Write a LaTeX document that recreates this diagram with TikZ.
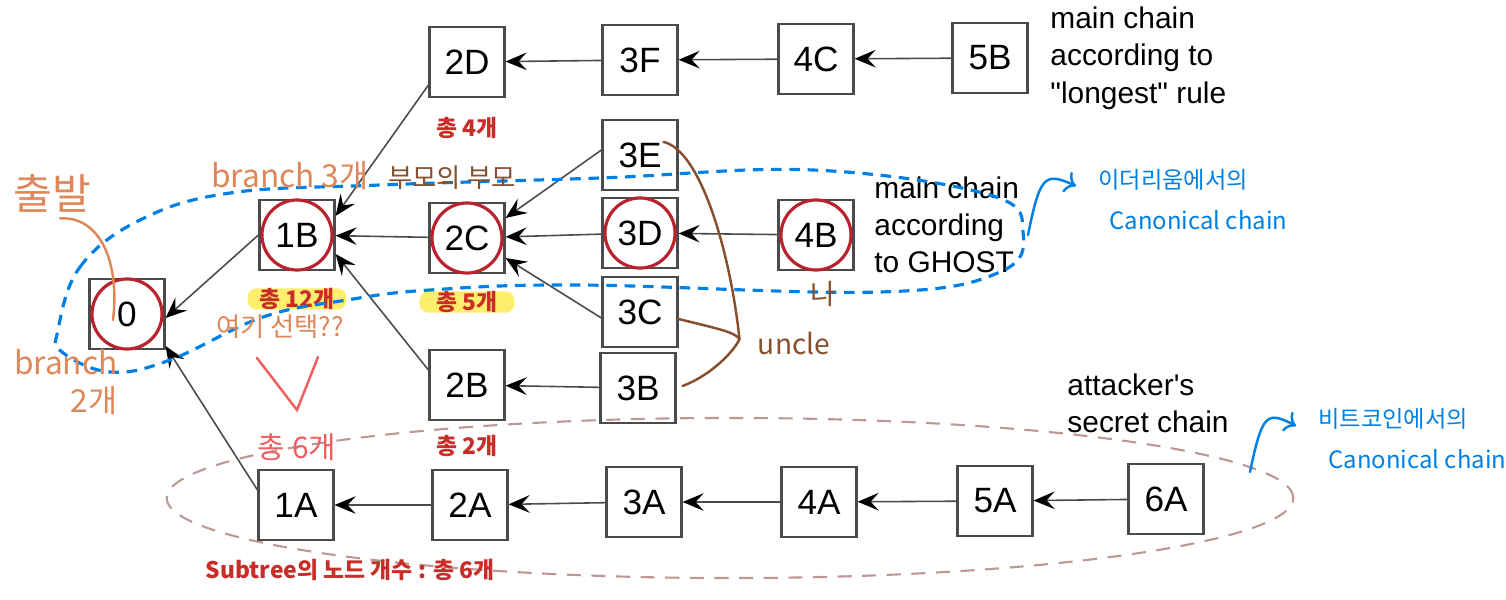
\documentclass[tikz,border=0pt]{standalone}
\usepackage{fontspec}
\setmainfont{Liberation Sans}
\newfontfamily\kr{Noto Sans CJK KR}
\usetikzlibrary{arrows.meta}
\definecolor{blkgray}{RGB}{75,75,75}
\definecolor{ringred}{RGB}{185,35,45}
\definecolor{tallyred}{RGB}{200,45,40}
\definecolor{hlyellow}{RGB}{255,238,110}
\definecolor{orangepen}{RGB}{222,135,88}
\definecolor{brownpen}{RGB}{135,80,45}
\definecolor{pinkpen}{RGB}{238,95,95}
\definecolor{bluepen}{RGB}{0,128,228}
\definecolor{secretrose}{RGB}{190,150,150}
\begin{document}
\begin{tikzpicture}[
    x=0.01cm, y=-0.01cm,
    font=\fontsize{10}{12}\selectfont,
    blk/.style={draw=blkgray, line width=0.6pt, minimum width=0.75cm, minimum height=0.7cm, inner sep=0pt},
    ring/.style={draw=ringred, line width=0.9pt},
    link/.style={-{Stealth[length=6pt, width=5pt, inset=2.3pt, color=black]}, draw=blkgray, line width=0.45pt},
    note/.style={align=left, anchor=west, font=\fontsize{8.5}{10.6}\selectfont},
    tally/.style={text=tallyred, font=\kr\bfseries\fontsize{6.5}{8}\selectfont},
    hilite/.style={fill=hlyellow, rounded corners=0.9mm, minimum width=0.95cm, minimum height=0.2cm, inner ysep=0pt},
    hand/.style={font=\kr\fontsize{8.5}{10}\selectfont},
    pen/.style={line width=0.7pt, line cap=round},
    loopline/.style={draw=bluepen, line width=0.9pt, dash pattern=on 3pt off 2.2pt},
    secret/.style={draw=secretrose, line width=0.6pt, dash pattern=on 4pt off 3pt}
]
\useasboundingbox (0,0) rectangle (1506,600);
\draw[secret] (730,498) ellipse [x radius=5.63cm, y radius=0.8cm];
\node[blk] (b2d) at (467,62) {2D};
\node[blk] (b3f) at (640,60) {3F};
\node[blk] (b4c) at (816,59) {4C};
\node[blk] (b5b) at (990,58) {5B};
\node[blk] (b3e) at (640,155) {3E};
\node[blk] (b3d) at (640,233) {3D};
\node[blk] (b3c) at (640,312) {3C};
\node[blk] (b3b) at (638,388) {3B};
\node[blk] (b2c) at (467,238) {2C};
\node[blk] (b2b) at (467,385) {2B};
\node[blk] (b1b) at (297,235) {1B};
\node[blk] (b0) at (127,314) {0};
\node[blk] (b4b) at (816,235) {4B};
\node[blk] (b1a) at (296,505) {1A};
\node[blk] (b2a) at (470,505) {2A};
\node[blk] (b3a) at (644,502) {3A};
\node[blk] (b4a) at (819,502) {4A};
\node[blk] (b5a) at (995,501) {5A};
\node[blk] (b6a) at (1166,499) {6A};
\draw[ring] (b0.center) circle [radius=0.35cm];
\draw[ring] (b1b.center) circle [radius=0.35cm];
\draw[ring] (b2c.center) circle [radius=0.35cm];
\draw[ring] (b3d.center) circle [radius=0.35cm];
\draw[ring] (b4b.center) circle [radius=0.35cm];
\node[note] (longest) at (1038,58) {main chain\\according to\\\textquotedbl longest\textquotedbl{} rule};
\node[note] (ghost) at (862,225) {main chain\\according\\to GHOST};
\node[note] (attacker) at (1055,403) {attacker\textquotesingle s\\secret chain};
\draw[link] (b3f) -- (b2d);
\draw[link] (b4c) -- (b3f);
\draw[link] (b5b) -- (b4c);
\draw[link] ([yshift=-2.3mm]b2d.west) -- ([yshift=-1.7mm]b1b.north east);
\draw[link] (b2c) -- (b1b);
\draw[link] ([yshift=1.5mm]b2b.west) -- ([yshift=-1.9mm]b1b.east);
\draw[link] (b1b.west) -- ([yshift=-0.4mm]b0.east);
\draw[link] ([yshift=1.5mm]b1a.west) -- ([yshift=0.4mm]b0.south east);
\draw[link] ([yshift=0.5mm]b3e.west) -- ([yshift=2mm]b2c.east);
\draw[link] (b3d) -- (b2c);
\draw[link] ([yshift=-0.6mm]b3c.west) -- ([yshift=-2mm]b2c.east);
\draw[link] (b4b) -- (b3d);
\draw[link] (b3b) -- (b2b);
\draw[link] (b2a) -- (b1a);
\draw[link] (b3a) -- (b2a);
\draw[link] (b4a) -- (b3a);
\draw[link] (b5a) -- (b4a);
\draw[link] (b6a) -- (b5a);
\node[tally] (t4) at (467,128) {총 4개};
\node[tally, hilite] (t12) at (297,299) {총 12개};
\node[tally, hilite] (t5) at (467,302) {총 5개};
\node[tally] (t2) at (467,446) {총 2개};
\node[tally] (subtree) at (350,570) {Subtree의 노드 개수 : 총 6개};
\draw[loopline] plot[smooth cycle, tension=0.65] coordinates {(58,330) (80,267) (140,220) (230,193) (380,185) (600,178) (813,170) (990,195) (1023,232) (1000,272) (880,292) (580,285) (430,290) (347,300) (263,317) (170,360) (110,372) (62,352)};
\node[hand, text=orangepen, font=\kr\fontsize{12}{13}\selectfont] (depart) at (52,193) {출발};
\draw[pen, draw=orangepen] ([xshift=0.8mm,yshift=0.6mm]depart.south) .. controls (100,216) and (120,262) .. ([xshift=-1.4mm,yshift=-0.6mm]b0.center);
\node[hand, text=orangepen, font=\kr\fontsize{9}{10}\selectfont] (br3) at (290,176) {branch 3개};
\node[hand, text=orangepen, font=\kr\fontsize{9}{11}\selectfont, align=right, anchor=east] (br2) at (130,382) {branch\\2개};
\node[hand, text=brownpen, font=\kr\fontsize{7.5}{9}\selectfont] (gp) at (452,178) {부모의 부모};
\node[hand, text=orangepen, font=\kr\fontsize{7.5}{9}\selectfont] (pick) at (280,327) {여기 선택??};
\draw[pen, draw=pinkpen] (257,358) -- (297,410) -- (318,357);
\node[hand, text=pinkpen] (t6) at (297,447) {총 6개};
\node[hand, text=brownpen, font=\kr\fontsize{8}{9}\selectfont] (uncle) at (794,343) {uncle};
\draw[pen, draw=brownpen] ([xshift=-1.5mm,yshift=1.3mm]b3e.east) .. controls (700,150) and (730,250) .. ([xshift=-0.6mm,yshift=0.4mm]uncle.west);
\draw[pen, draw=brownpen] ([yshift=-0.7mm]b3c.east) .. controls (715,328) and (735,332) .. ([xshift=-0.6mm,yshift=0.4mm]uncle.west);
\draw[pen, draw=brownpen] ([xshift=0.6mm,yshift=0.2mm]b3b.east) .. controls (712,375) and (735,350) .. ([xshift=-0.6mm,yshift=0.4mm]uncle.west);
\node[hand, text=brownpen, font=\kr\fontsize{8}{9}\selectfont] (me) at (823,294) {나};
\coordinate (ethtip) at (1028,235);
\node[hand, text=bluepen, font=\kr\fontsize{6.6}{9}\selectfont, anchor=west] (eth) at (1086,180) {이더리움에서의};
\node[hand, text=bluepen, font=\kr\fontsize{6.8}{9}\selectfont, anchor=west] (ethcan) at (1097,220) {Canonical chain};
\draw[pen, draw=bluepen, -{To[length=3pt]}] (ethtip) .. controls (1040,175) and (1045,172) .. ([xshift=-1mm,yshift=-0.6mm]eth.west);
\coordinate (btctip) at (1250,472);
\node[hand, text=bluepen, font=\kr\fontsize{6.6}{9}\selectfont, anchor=west] (btc) at (1306,419) {비트코인에서의};
\node[hand, text=bluepen, font=\kr\fontsize{6.8}{9}\selectfont, anchor=west] (btccan) at (1316,459) {Canonical chain};
\draw[pen, draw=bluepen, -{To[length=3pt]}] (btctip) .. controls (1262,415) and (1266,410) .. ([xshift=-1mm,yshift=-0.7mm]btc.west);
\end{tikzpicture}
\end{document}
